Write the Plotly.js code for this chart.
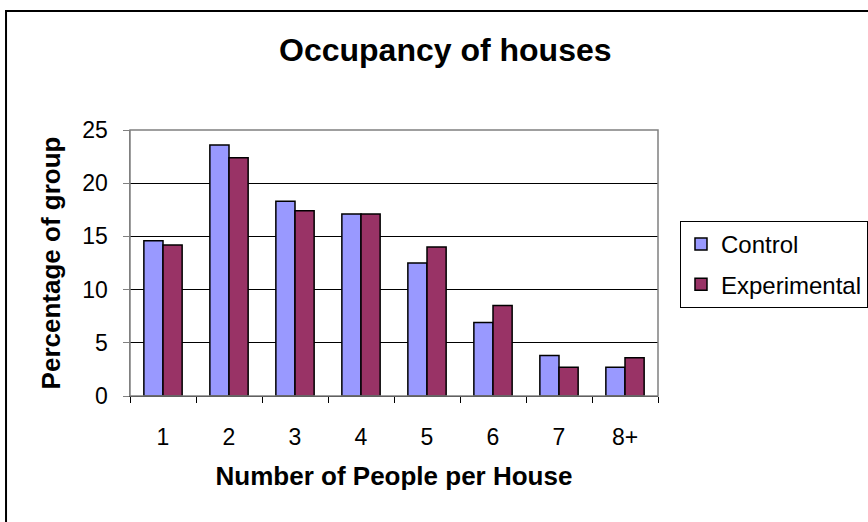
<!DOCTYPE html>
<html>
<head>
<meta charset="utf-8">
<script src="https://cdn.plot.ly/plotly-3.0.1.min.js"></script>
<style>
  body { margin: 0; background: #fff; }
  #chart { width: 868px; height: 522px; }
</style>
</head>
<body>
<div id="chart"></div>
<script>
"use strict";

// people per house
var categories = ["1", "2", "3", "4", "5", "6", "7", "8+"];
// percentage of group
var controlValues = [14.6, 23.6, 18.3, 17.1, 12.5, 6.9, 3.8, 2.7];
var experimentalValues = [14.2, 22.4, 17.4, 17.1, 14.0, 8.5, 2.7, 3.6];

var fontFamily = "Liberation Sans, Arial, sans-serif";

var control = {
    x: categories,
    y: controlValues,
    type: "bar",
    name: "Control",
    legendgroup: "control",
    marker: { color: "#9999ff", line: { color: "#000000", width: 1.5 } }
};

var experimental = {
    x: categories,
    y: experimentalValues,
    type: "bar",
    name: "Experimental",
    legendgroup: "experimental",
    marker: { color: "#993366", line: { color: "#000000", width: 1.5 } }
};

var layout = {
    width: 868,
    height: 522,
    margin: { l: 130, r: 210, t: 130, b: 126 },
    paper_bgcolor: "#ffffff",
    plot_bgcolor: "#ffffff",
    font: { family: fontFamily, color: "#000000", size: 23 },
    barmode: "group",
    bargap: 0.42,
    bargroupgap: 0,
    title: {
        text: "<b>Occupancy of houses</b>",
        font: { size: 32 },
        x: 0.513,
        xref: "container",
        y: 0.905,
        yanchor: "middle"
    },
    xaxis: {
        type: "category",
        title: { text: "<b>Number of People per House</b>", font: { size: 26 }, standoff: 18 },
        tickson: "boundaries",
        ticks: "outside",
        ticklen: 6,
        tickcolor: "#000000",
        ticklabelstandoff: 20,
        showline: true,
        linecolor: "#000000",
        linewidth: 1,
        automargin: false
    },
    yaxis: {
        title: { text: "<b>Percentage of group</b>", font: { size: 26 }, standoff: 14 },
        range: [0, 25],
        dtick: 5,
        ticks: "outside",
        ticklen: 6,
        tickcolor: "#808080",
        ticklabelstandoff: 10,
        showline: true,
        linecolor: "#808080",
        linewidth: 1.5,
        showgrid: true,
        gridcolor: "#000000",
        gridwidth: 1,
        zeroline: false,
        automargin: false
    },
    legend: {
        xref: "container",
        yref: "container",
        x: 0.7834,
        y: 0.5766,
        xanchor: "left",
        yanchor: "top",
        bordercolor: "#000000",
        borderwidth: 1,
        font: { size: 24 },
        itemwidth: 30,
        tracegroupgap: 6,
        entrywidth: 200
    },
    showlegend: true,
    shapes: [
        {
            type: "rect", xref: "paper", yref: "paper",
            x0: 0, x1: 1, y0: 0, y1: 1,
            line: { color: "#808080", width: 1.5 }
        },
        {
            type: "rect", xref: "paper", yref: "paper",
            x0: -0.2348, x1: 1.6, y0: -0.6, y1: 1.447,
            line: { color: "#000000", width: 2 }
        }
    ]
};

Plotly.newPlot("chart", [control, experimental], layout, { displayModeBar: false, staticPlot: true });
</script>
</body>
</html>
